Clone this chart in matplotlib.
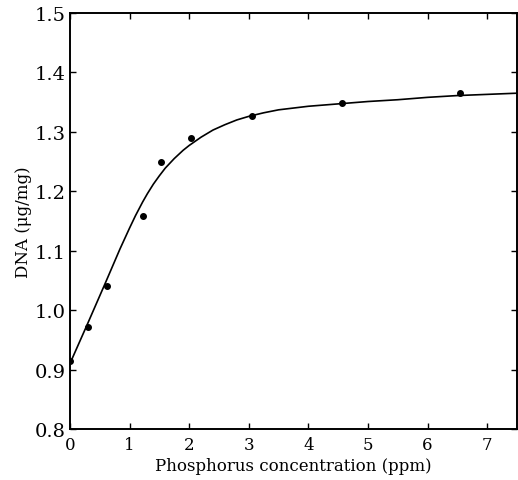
import matplotlib
matplotlib.use("Agg")
import matplotlib.pyplot as plt

# measured points
px = [0.0, 0.30, 0.62, 1.22, 1.52, 2.03, 3.05, 4.56, 6.55]
py = [0.915, 0.972, 1.040, 1.158, 1.249, 1.289, 1.327, 1.348, 1.366]

# fitted curve
cx = [0.0, 0.3, 0.6, 0.84, 1.0, 1.1, 1.22, 1.3, 1.4, 1.5, 1.6, 1.75, 1.9, 2.0,
      2.2, 2.4, 2.6, 2.8, 3.0, 3.25, 3.5, 4.0, 4.5, 5.0, 5.5, 6.0, 6.5, 7.0, 7.5]
cy = [0.910, 0.978, 1.047, 1.103, 1.138, 1.159, 1.182, 1.196, 1.212, 1.226,
      1.239, 1.255, 1.269, 1.277, 1.291, 1.303, 1.312, 1.320, 1.326, 1.332,
      1.337, 1.343, 1.347, 1.351, 1.354, 1.358, 1.361, 1.363, 1.365]

xticks = [0, 1, 2, 3, 4, 5, 6, 7]
yticks = [0.8, 0.9, 1.0, 1.1, 1.2, 1.3, 1.4, 1.5]
ytick_labels = ["0.8", "0.9", "1.0", "1.1", "1.2", "1.3", "1.4", "1.5"]

plt.rcParams['font.family'] = ['DejaVu Serif']
fig = plt.figure(figsize=(5.18, 4.81), dpi=100)
ax = fig.add_axes([0.135, 0.106, 0.863, 0.865])

ax.plot(cx, cy, color='black', lw=1.2)
ax.plot(px, py, 'o', color='black', ms=4)

ax.set_xlim(0, 7.5)
ax.set_ylim(0.8, 1.5)
ax.set_xticks(xticks)
ax.set_yticks(yticks)
ax.set_yticklabels(ytick_labels)
ax.tick_params(direction='in', top=True, right=True, length=4, width=1.0)
ax.tick_params(axis='x', labelsize=12, pad=5)
ax.tick_params(axis='y', labelsize=14, pad=3)
for s in ax.spines.values():
    s.set_linewidth(1.4)

ax.set_xlabel("Phosphorus concentration (ppm)", fontsize=12, labelpad=3)
ax.set_ylabel("DNA (μg/mg)", fontsize=12, labelpad=2)

fig.savefig("out.png", dpi=100)
